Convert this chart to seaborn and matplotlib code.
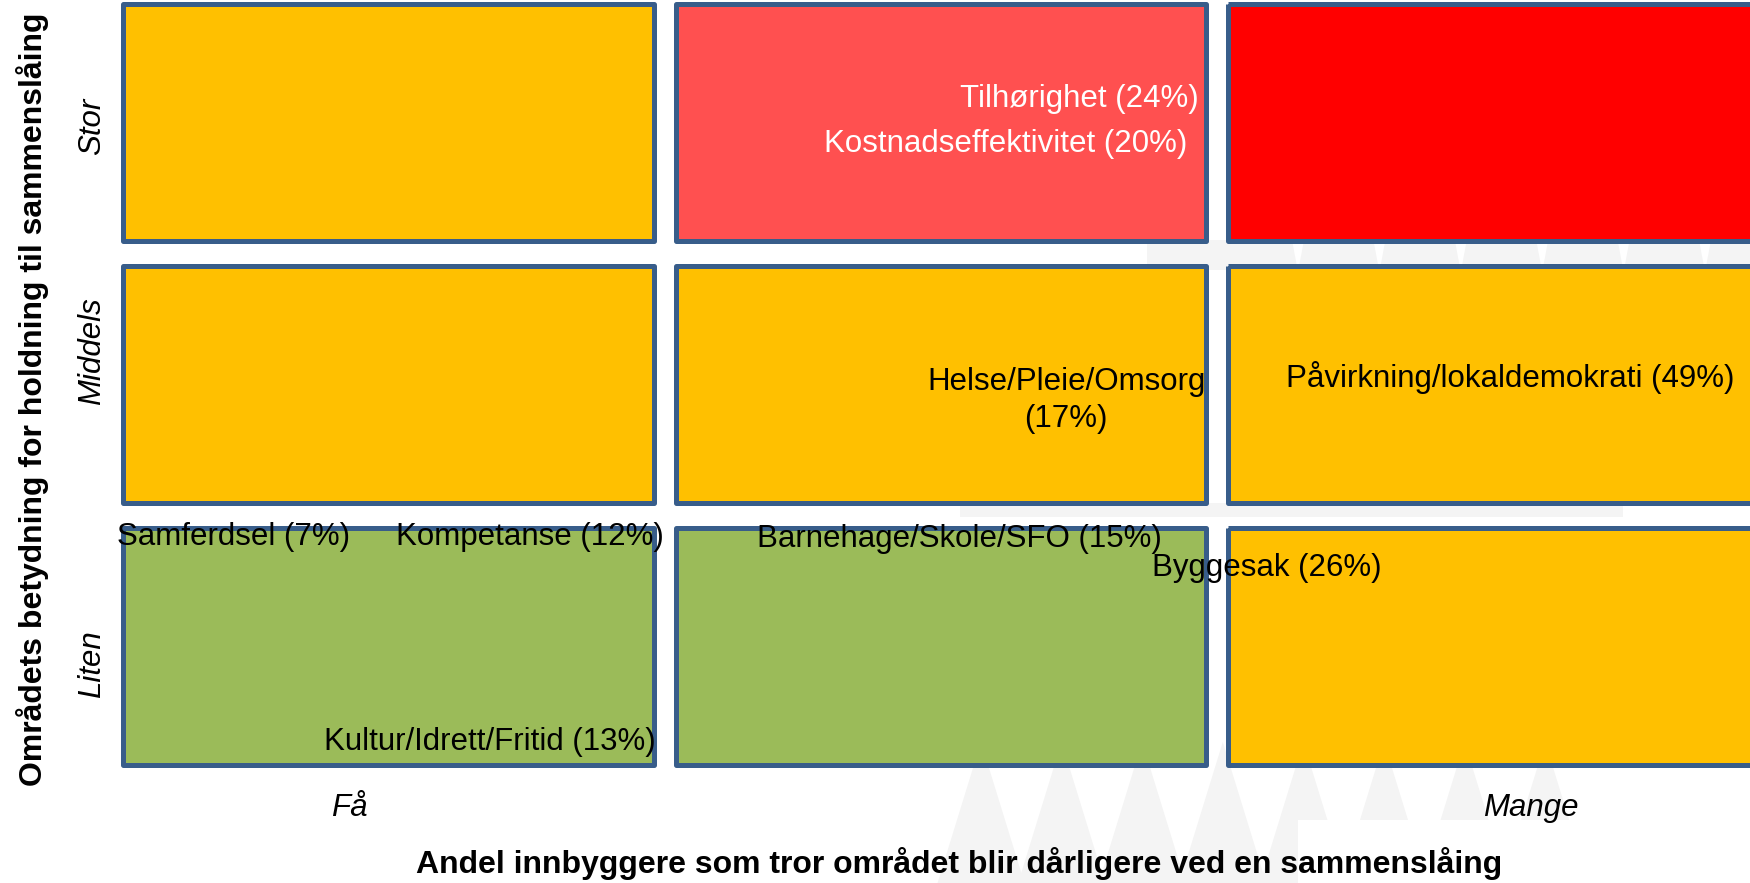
import numpy as np
import pandas as pd
import seaborn as sns
import matplotlib
matplotlib.use("Agg")
import matplotlib.pyplot as plt
from matplotlib.colors import ListedColormap
from matplotlib.path import Path
from matplotlib.patches import Rectangle, Polygon

# ---------------- data ----------------
rows = ["Stor", "Middels", "Liten"]            # importance (top to bottom)
cols = ["Få", "Middels", "Mange"]              # share of residents
xtick_labels = ["Få", "Mange"]
# risk level of each cell: 0 = green, 1 = yellow, 2 = light red, 3 = red
level = [[1, 2, 3],
         [1, 1, 1],
         [0, 0, 1]]
level_colors = ["#9BBB59", "#FFC000", "#FF5050", "#FF0000"]

areas = ["Tilhørighet", "Kostnadseffektivitet", "Helse/Pleie/Omsorg",
         "Påvirkning/lokaldemokrati", "Samferdsel", "Kompetanse",
         "Barnehage/Skole/SFO", "Byggesak", "Kultur/Idrett/Fritid"]
shares = [24, 20, 17, 49, 7, 12, 15, 26, 13]

xlabel = "Andel innbyggere som tror området blir dårligere ved en sammenslåing"
ylabel = "Områdets betydning for holdning til sammenslåing"

# ---------------- layout (positions in cell units) ----------------
label_layout = [  # x, y, ha, colour, wrap
    (1.967, 0.411, "right", "white", False),
    (1.946, 0.583, "right", "white", False),
    (1.727, 1.560, "center", "black", True),
    (2.125, 1.474, "left", "black", False),
    (0.009, 2.082, "left", "black", False),
    (0.999, 2.082, "right", "black", False),
    (1.900, 2.089, "right", "black", False),
    (1.882, 2.200, "left", "black", False),
    (0.985, 2.864, "right", "black", False),
]
xtick_pos = [0.429, 2.568]
ytick_pos = [0.513, 1.371, 2.565]

W, H = 1750, 883
sns.set_theme(style="white")
plt.rcParams["font.family"] = ["Liberation Sans", "DejaVu Sans"]
FS = 22.5

fig = plt.figure(figsize=(W / 100, H / 100), dpi=100)
fig.patch.set_facecolor("white")

# faint watermark in the background (figure pixel coordinates)
bg = fig.add_axes([0, 0, 1, 1], zorder=0)
bg.set_xlim(0, W)
bg.set_ylim(H, 0)
bg.axis("off")
wm = "#F4F4F4"
for k in range(8):
    cx = 981 + 80.6 * k
    bg.add_patch(Polygon([(cx, 742), (cx - 45, H + 5), (cx + 45, H + 5)],
                         closed=True, facecolor=wm, edgecolor="none"))
# upper band (visible in gap between top rows)
bg.add_patch(Rectangle((1147, 240), W - 1147, 30, facecolor=wm, edgecolor="none"))
for k in range(6):
    cx = 1298 + 81.4 * k
    bg.add_patch(Polygon([(cx - 6, 240), (cx + 6, 240), (cx, 272)],
                         closed=True, facecolor="white", edgecolor="none"))
# middle band
bg.add_patch(Rectangle((960, 503), 1623 - 960, 14, facecolor=wm, edgecolor="none"))
bg.add_patch(Rectangle((1298, 820), W - 1298, H - 820, facecolor="white", edgecolor="none"))

# main grid axes
px_left, px_right = 112, 1769.5
px_top, px_bottom = -8.5, 778
ax = fig.add_axes([px_left / W, (H - px_bottom) / H,
                   (px_right - px_left) / W, (px_bottom - px_top) / H], zorder=1)
ax.patch.set_alpha(0)

df = pd.DataFrame(level, index=rows, columns=cols)
cmap = ListedColormap(level_colors)
sns.heatmap(df, cmap=cmap, vmin=-0.5, vmax=3.5, cbar=False, linewidths=0, ax=ax)

cell_w = (px_right - px_left) / 3
cell_h = (px_bottom - px_top) / 3
ix = 11.0 / cell_w   # inset of the blue outline (centre line)
iy = 12.5 / cell_h

verts, codes = [], []
for i in range(len(rows)):
    for j in range(len(cols)):
        x0, x1 = j + ix, j + 1 - ix
        y0, y1 = i + iy, i + 1 - iy
        verts += [(x0, y0), (x1, y0), (x1, y1), (x0, y1), (x0, y0)]
        codes += [Path.MOVETO, Path.LINETO, Path.LINETO, Path.LINETO, Path.CLOSEPOLY]
        ax.add_patch(Rectangle((x0, y0), x1 - x0, y1 - y0, fill=False,
                               edgecolor="#385D8A", linewidth=3.6, zorder=3,
                               joinstyle="round"))
mesh = ax.collections[0]
mesh.set_clip_path(Path(verts, codes), ax.transData)

for name, share, (x, y, ha, col, wrap) in zip(areas, shares, label_layout):
    txt = f"{name}\n({share}%)" if wrap else f"{name} ({share}%)"
    ax.text(x, y, txt, ha=ha, va="center", color=col, fontsize=FS,
            multialignment="center", linespacing=1.3, zorder=5)

ax.set_xticks(xtick_pos)
ax.set_xticklabels(xtick_labels, fontsize=FS, fontstyle="italic", color="black")
ax.set_yticks(ytick_pos)
ax.set_yticklabels(rows, fontsize=FS, fontstyle="italic", color="black",
                   rotation=90, va="center")
ax.tick_params(axis="x", length=0, pad=11)
ax.tick_params(axis="y", length=0, pad=3.5)
ax.set_xlabel("")
ax.set_ylabel("")
for s in ax.spines.values():
    s.set_visible(False)

fig.text(959 / W, 1 - 864 / H, xlabel, ha="center", va="center",
         fontsize=23, fontweight="bold", color="black")
fig.text(33 / W, 1 - 399 / H, ylabel, ha="center", va="center", rotation=90,
         fontsize=23, fontweight="bold", color="black")

fig.savefig("out.png", dpi=100)
